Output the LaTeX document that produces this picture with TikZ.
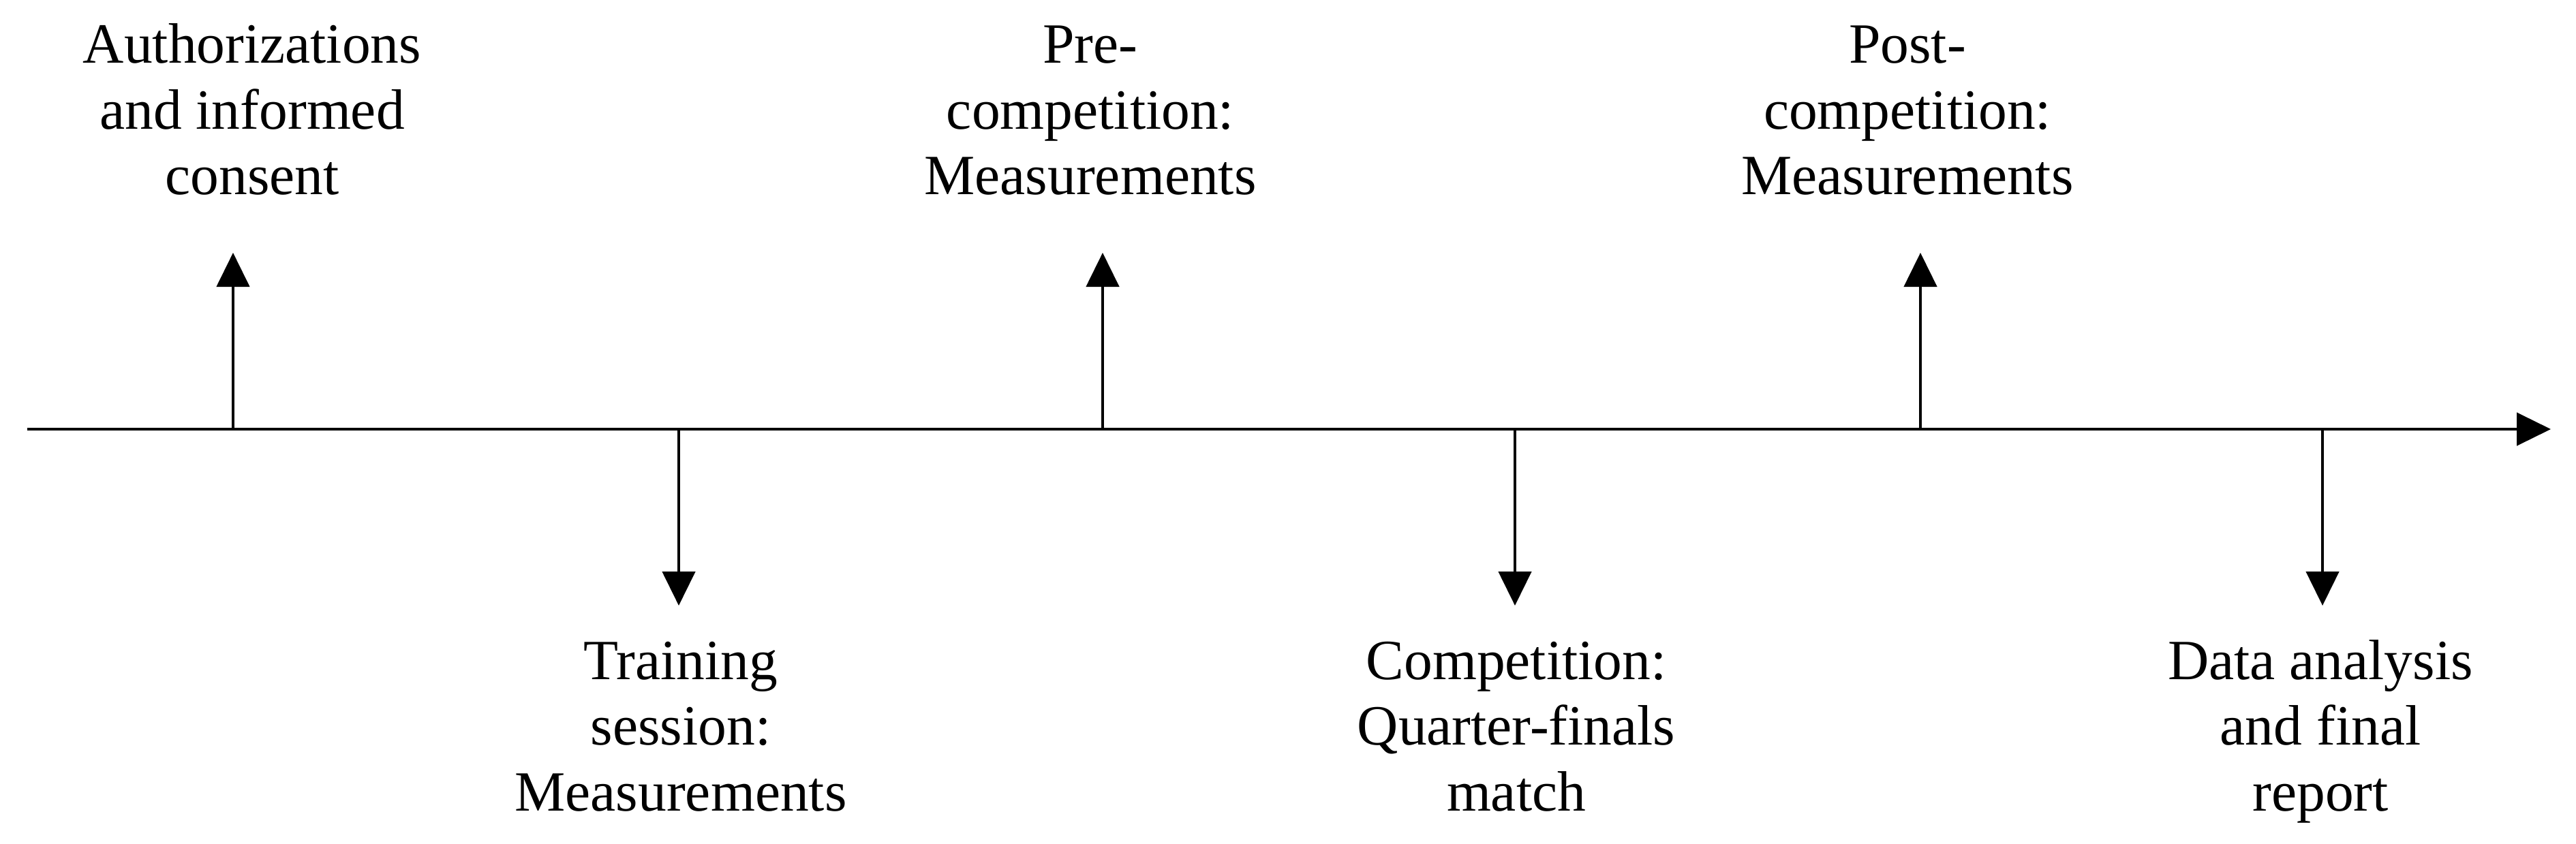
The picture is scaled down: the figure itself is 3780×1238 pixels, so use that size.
\documentclass[tikz,border=0pt]{standalone}
\usepackage{fontspec}
\setmainfont{Liberation Serif}
\usetikzlibrary{arrows.meta}
\begin{document}
\begin{tikzpicture}[x=0.2pt,y=-0.2pt,
  arr/.style={line width=0.92pt,-{Triangle[length=10pt,width=9.6pt]}},
  lbl/.style={align=center,inner sep=0pt,anchor=base,font=\fontsize{16.7}{19.3}\selectfont}]
\useasboundingbox (0,0) rectangle (3780,1238);
% axis
\coordinate (start) at (40,630);
\coordinate (end) at (3743,630);
\draw[arr] (start) -- (end);
% ticks on the axis
\coordinate (a1) at (342,630);
\coordinate (a2) at (996,630);
\coordinate (a3) at (1618,630);
\coordinate (a4) at (2223,630);
\coordinate (a5) at (2818,630);
\coordinate (a6) at (3408,630);
% arrow tips
\coordinate (e1) at (342,371);
\coordinate (e2) at (996,889);
\coordinate (e3) at (1618,371);
\coordinate (e4) at (2223,889);
\coordinate (e5) at (2818,371);
\coordinate (e6) at (3408,889);
\draw[arr] (a1) -- (e1);
\draw[arr] (a2) -- (e2);
\draw[arr] (a3) -- (e3);
\draw[arr] (a4) -- (e4);
\draw[arr] (a5) -- (e5);
\draw[arr] (a6) -- (e6);
% labels (anchored at the baseline of their last line)
\node[lbl] (l1) at (370,286) {Authorizations\\and informed\\consent};
\node[lbl] (l3) at (1600,286) {Pre-\\competition:\\Measurements};
\node[lbl] (l5) at (2799,286) {Post-\\competition:\\Measurements};
\node[lbl] (l2) at (999,1190) {Training\\session:\\Measurements};
\node[lbl] (l4) at (2225,1190) {Competition:\\Quarter-finals\\match};
\node[lbl] (l6) at (3405,1190) {Data analysis\\and final\\report};
\end{tikzpicture}
\end{document}
